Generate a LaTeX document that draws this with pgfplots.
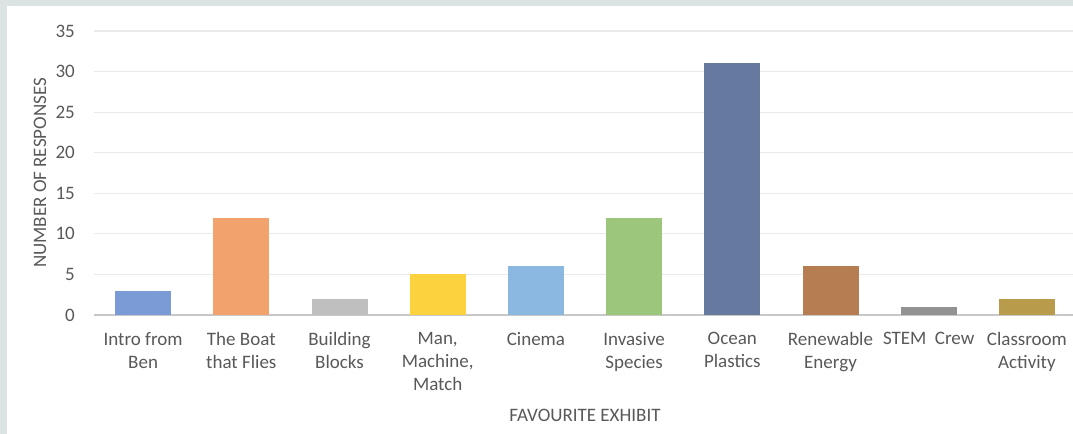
\documentclass[border=0pt]{standalone}
\usepackage{pgfplots}
\pgfplotsset{compat=1.18}
\usepackage{fontspec}
\setmainfont{Carlito}

\definecolor{framecol}{HTML}{DBE3E3}
\definecolor{txt}{HTML}{595959}
\definecolor{gridcol}{HTML}{EAEAEA}
\definecolor{basecol}{HTML}{C8C8C8}
\definecolor{cIntro}{HTML}{7A9BD5}
\definecolor{cBoat}{HTML}{F1A26D}
\definecolor{cBlocks}{HTML}{BFBFBF}
\definecolor{cMan}{HTML}{FDD23F}
\definecolor{cCinema}{HTML}{8BB8E1}
\definecolor{cInvasive}{HTML}{9BC67C}
\definecolor{cOcean}{HTML}{66799F}
\definecolor{cRenew}{HTML}{B77D52}
\definecolor{cStem}{HTML}{929292}
\definecolor{cClass}{HTML}{B89B4B}

\newcommand\lab{\fontsize{19bp}{23bp}\selectfont}

\begin{document}
\begin{tikzpicture}[x=1bp,y=1bp]
\path[use as bounding box] (0,0) rectangle (1073,434);
\fill[framecol] (0,0) rectangle (1073,434);
\fill[white] (7,0) rectangle (1073,428);
\begin{scope}
\clip (0,0) rectangle (1073,434);
\begin{axis}[
    at={(94bp,119bp)}, anchor=south west,
    scale only axis, width=982bp, height=284bp,
    xmin=-0.5, xmax=9.5,
    ymin=0, ymax=35,
    ytick={0,5,...,35},
    xtick={0,...,9},
    xticklabels={Intro from\\Ben, The Boat\\that Flies, Building\\Blocks,
        {Man,\\Machine,\\Match}, Cinema, Invasive\\Species, Ocean\\Plastics,
        Renewable\\Energy, STEM\ \ Crew, Classroom\\Activity},
    axis lines*=left,
    x axis line style={draw=basecol, line width=1.5bp, -},
    y axis line style={draw=none},
    major tick length=0pt,
    ymajorgrids=true,
    grid style={draw=gridcol, line width=1.2bp},
    /pgf/number format/assume math mode=true,
    tick label style={font=\lab, text=txt},
    xticklabel style={align=center, anchor=north, inner sep=0pt, yshift=-17bp},
    yticklabel style={anchor=east, inner sep=0pt, xshift=-19bp},
    xlabel={FAVOURITE EXHIBIT},
    ylabel={NUMBER OF RESPONSES},
    label style={font=\lab, text=txt},
    xlabel style={at={([yshift=-100bp]axis description cs:0.5,0)}, anchor=center},
    ylabel style={at={([xshift=-54bp]axis description cs:0,0.5)}, anchor=center},
    every axis plot/.append style={ybar, bar width=56bp, bar shift=0pt, draw=none},
]
\addplot[fill=cIntro] coordinates {(0,3)};
\addplot[fill=cBoat] coordinates {(1,12)};
\addplot[fill=cBlocks] coordinates {(2,2)};
\addplot[fill=cMan] coordinates {(3,5)};
\addplot[fill=cCinema] coordinates {(4,6)};
\addplot[fill=cInvasive] coordinates {(5,12)};
\addplot[fill=cOcean] coordinates {(6,31)};
\addplot[fill=cRenew] coordinates {(7,6)};
\addplot[fill=cStem] coordinates {(8,1)};
\addplot[fill=cClass] coordinates {(9,2)};
\end{axis}
\end{scope}
\end{tikzpicture}
\end{document}
